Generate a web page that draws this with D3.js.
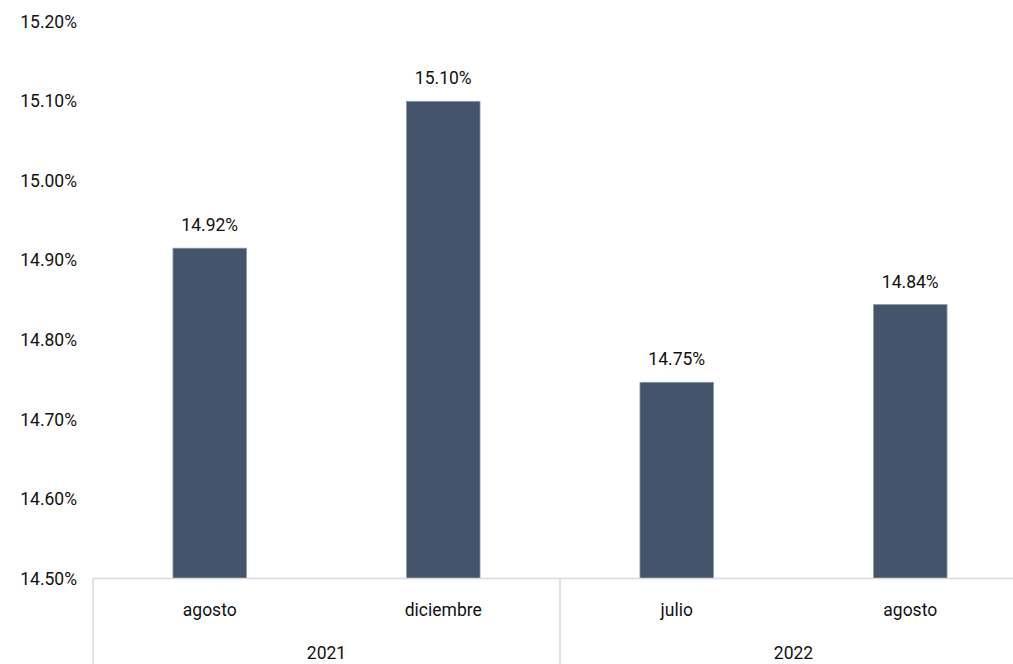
<!DOCTYPE html>
<html>
<head>
<meta charset="utf-8">
<script src="https://cdn.jsdelivr.net/npm/d3@7"></script>
<style>
  html, body { margin: 0; padding: 0; background: #ffffff; overflow: hidden; }
  svg { display: block; }
  text { font-family: Roboto, "Liberation Sans", sans-serif; fill: #111; }
</style>
</head>
<body>
<svg id="chart" width="1013" height="664"></svg>
<script>
const months = ["agosto", "diciembre", "julio", "agosto"];
const yearOfMonth = ["2021", "2021", "2022", "2022"];
const years = ["2021", "2022"];
const values = [14.9153, 15.10, 14.7467, 14.8444];
const valueLabels = ["14.92%", "15.10%", "14.75%", "14.84%"];
const yTicks = [14.5, 14.6, 14.7, 14.8, 14.9, 15.0, 15.1, 15.2];

const svg = d3.select("#chart");
const left = 93, right = 1027, axisY = 578.5, topY = 21.8;
const fontSize = 17.5;

const y = d3.scaleLinear().domain([14.5, 15.2]).range([axisY, topY]);
const x = d3.scaleBand().domain(d3.range(months.length)).range([left, right])
  .paddingInner(0.685).paddingOuter(0.3425);
const xStep = d3.scaleBand().domain(d3.range(months.length)).range([left, right]);

// y axis labels
const yAxis = d3.axisLeft(y).tickValues(yTicks).tickSize(0).tickPadding(0)
  .tickFormat(d => d.toFixed(2) + "%");
const gy = svg.append("g").attr("transform", "translate(77,0)").call(yAxis);
gy.select(".domain").remove();
gy.selectAll("text").attr("font-size", fontSize)
  .style("font-family", 'Roboto, "Liberation Sans", sans-serif')
  .attr("fill", "#111");

// bars
svg.append("g").selectAll("rect").data(values).join("rect")
  .attr("x", (d, i) => x(i))
  .attr("width", x.bandwidth())
  .attr("y", d => y(d))
  .attr("height", d => axisY - y(d))
  .attr("fill", "#44546a")
  .attr("stroke", "#8a97a8")
  .attr("stroke-width", 0.8);

// value labels
svg.append("g").selectAll("text").data(values).join("text")
  .attr("x", (d, i) => x(i) + x.bandwidth() / 2)
  .attr("y", d => y(d) - 23)
  .attr("text-anchor", "middle")
  .attr("dominant-baseline", "central")
  .attr("font-size", fontSize)
  .text((d, i) => valueLabels[i]);

// category axis lines
const lineColor = "#d9d9d9";
svg.append("line").attr("x1", left).attr("x2", 1013)
  .attr("y1", axisY).attr("y2", axisY)
  .attr("stroke", lineColor).attr("stroke-width", 1.5);

// group separators (start of each year group)
const groupStarts = years.map(yr => yearOfMonth.indexOf(yr));
svg.append("g").selectAll("line").data(groupStarts).join("line")
  .attr("x1", i => xStep(i)).attr("x2", i => xStep(i))
  .attr("y1", axisY).attr("y2", 664)
  .attr("stroke", lineColor).attr("stroke-width", 1.5);

// month labels
svg.append("g").selectAll("text").data(months).join("text")
  .attr("x", (d, i) => xStep(i) + xStep.bandwidth() / 2)
  .attr("y", 610)
  .attr("text-anchor", "middle")
  .attr("dominant-baseline", "central")
  .attr("font-size", fontSize)
  .text(d => d);

// year labels
svg.append("g").selectAll("text").data(years).join("text")
  .attr("x", yr => {
    const idx = yearOfMonth.map((v, i) => v === yr ? i : -1).filter(i => i >= 0);
    const a = xStep(idx[0]);
    const b = xStep(idx[idx.length - 1]) + xStep.bandwidth();
    return (a + b) / 2;
  })
  .attr("y", 653)
  .attr("text-anchor", "middle")
  .attr("dominant-baseline", "central")
  .attr("font-size", fontSize)
  .text(d => d);
</script>
</body>
</html>
